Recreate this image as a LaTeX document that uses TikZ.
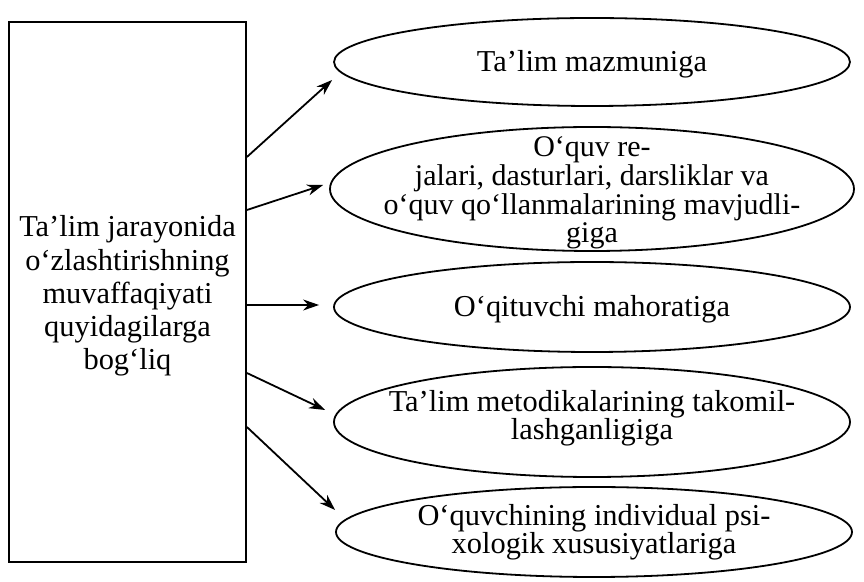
\documentclass[tikz,border=0pt]{standalone}
\usepackage{fontspec}
\setmainfont{Liberation Serif}
\usetikzlibrary{shapes.geometric,arrows.meta,calc}
\begin{document}
\begin{tikzpicture}[x=0.5pt,y=-0.5pt,
  every node/.style={font=\fontsize{15.2}{16}\selectfont},
  bubble/.style={draw, ellipse, line width=0.9pt, inner sep=0pt, minimum width=258pt},
  inner/.style={align=center, font=\fontsize{15.2}{14}\selectfont},
  arr/.style={line width=0.9pt, -{Stealth[length=8pt,width=5.5pt]}}]
\fill[white] (0,0) rectangle (864,582);
\useasboundingbox (0,0) rectangle (864,582);

\node[draw, line width=0.9pt, minimum width=118.5pt, minimum height=270pt, inner sep=0pt,
  label={[align=center, yshift=-2pt, font=\fontsize{15.2}{16.6}\selectfont]center:Ta’lim jarayonida\\o‘zlashtirishning\\muvaffaqiyati\\quyidagilarga\\bog‘liq}]
  (box) at (127.5,292) {};

\node[bubble, minimum height=44pt, label={[inner, yshift=-1pt]center:Ta’lim mazmuniga}] (e1) at (592,62) {};
\node[bubble, minimum width=262pt, minimum height=62pt,
  label={[inner, font=\fontsize{15}{14.4}\selectfont, yshift=-2pt]center:O‘quv re-\\jalari, dasturlari, darsliklar va\\o‘quv qo‘llanmalarining mavjudli-\\giga}] (e2) at (592,189) {};
\node[bubble, minimum height=45pt, label={[inner, yshift=-1pt]center:O‘qituvchi mahoratiga}] (e3) at (592,307) {};
\node[bubble, minimum height=55pt, label={[inner, yshift=2pt]center:Ta’lim metodikalarining takomil-\\lashganligiga}] (e4) at (592,422) {};
\node[bubble, minimum height=45pt, label={[inner]center:O‘quvchining individual psi-\\xologik xususiyatlariga}] (e5) at (594,532) {};

\draw[arr] ($(box.east)+(0,-135)$) -- ($(e1.west)+(-1,18)$);
\draw[arr] ($(box.east)+(0,-82)$) -- ($(e2.west)+(-6,-4)$);
\draw[arr] ($(box.east)+(0,13)$) -- ($(e3.west)+(-14,-2)$);
\draw[arr] ($(box.east)+(0,81)$) -- ($(e4.west)+(-8,-12)$);
\draw[arr] ($(box.east)+(0,135)$) -- ($(e5.west)+(0,-22)$);
\end{tikzpicture}
\end{document}
